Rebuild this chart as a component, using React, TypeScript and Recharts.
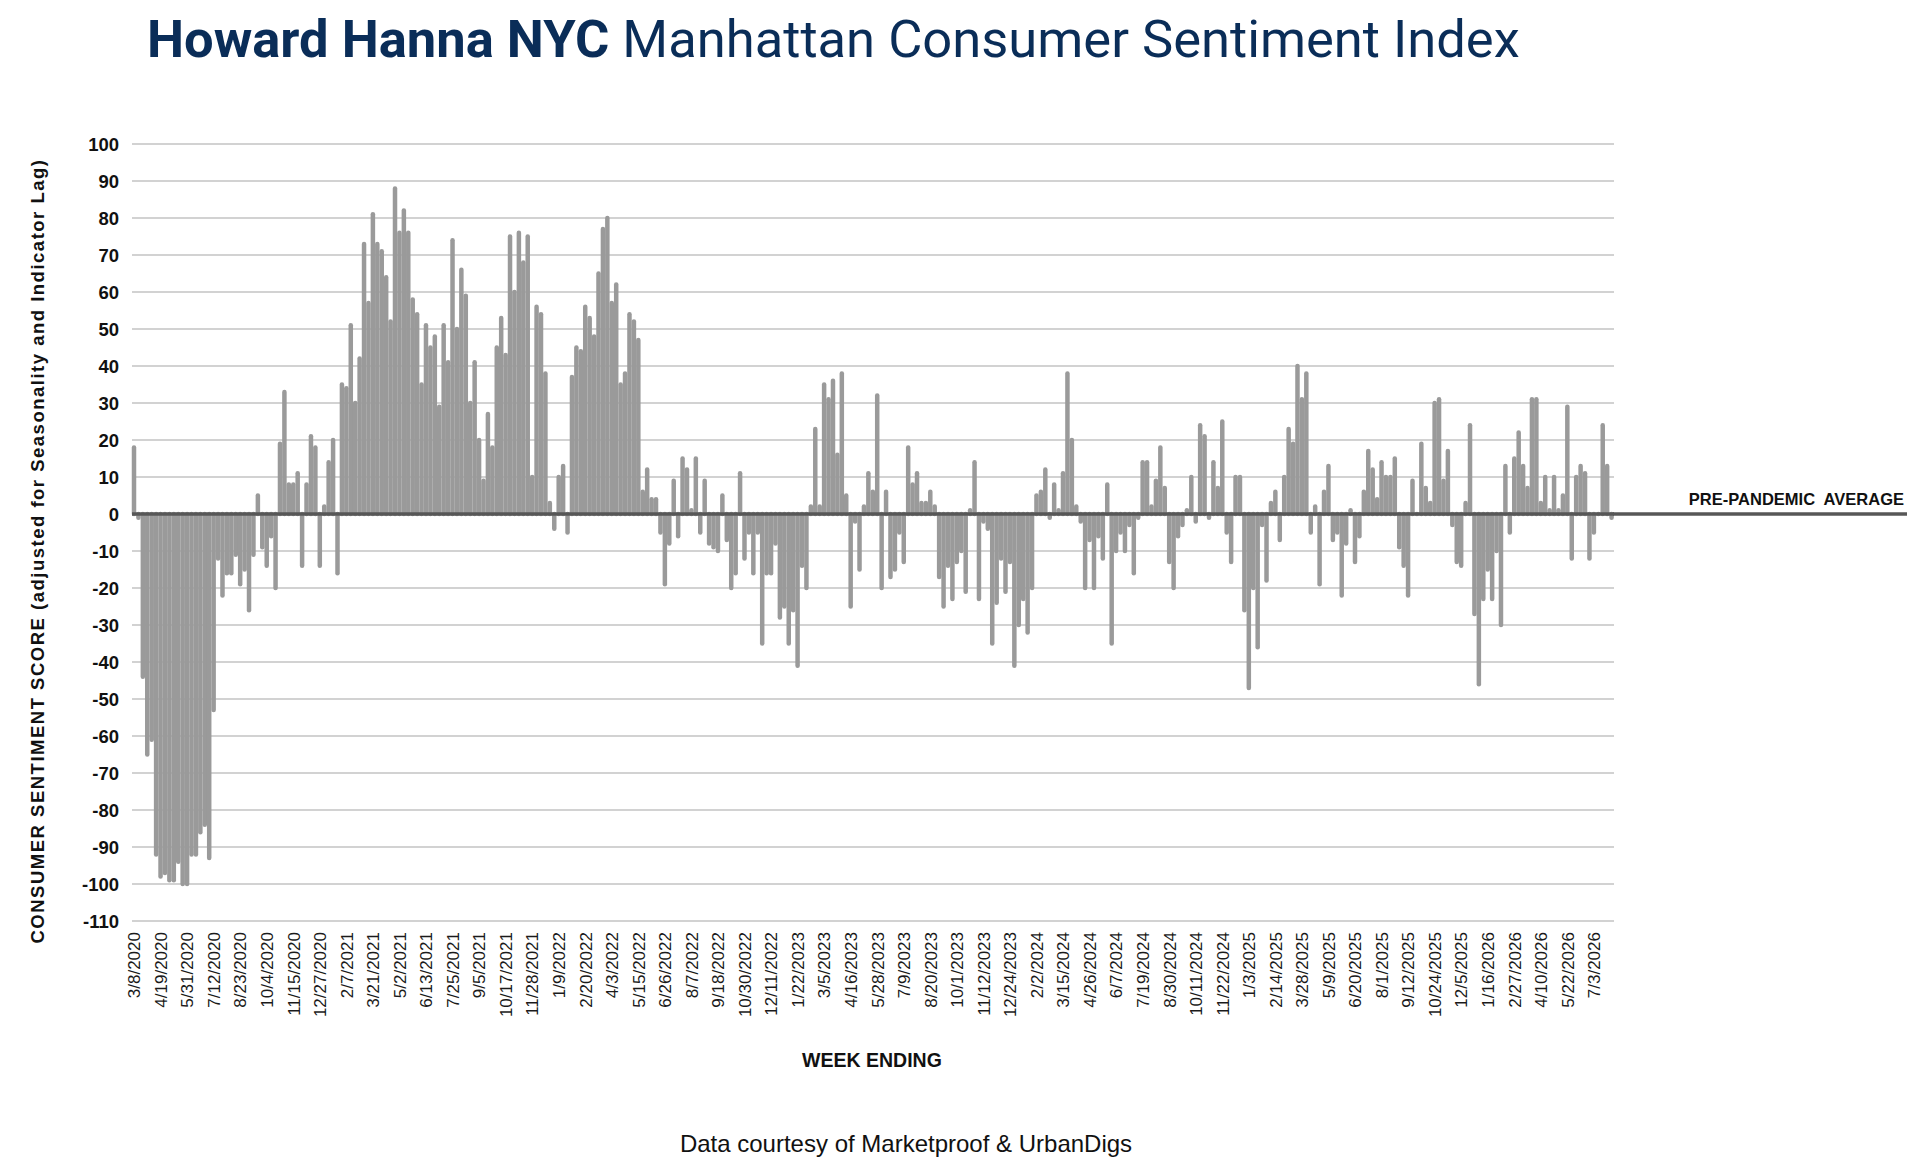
import React from "react";
import { BarChart, Bar, XAxis, YAxis, CartesianGrid, ReferenceLine } from "recharts";

// weekly index values, week ending 3/8/2020 onward
const VALUES = [
  18, -1, -44, -65, -61, -92, -98, -97, -99, -99,
  -94, -100, -100, -92, -92, -86, -84, -93, -53, -12,
  -22, -16, -16, -11, -19, -15, -26, -11, 5, -9,
  -14, -6, -20, 19, 33, 8, 8, 11, -14, 8,
  21, 18, -14, 2, 14, 20, -16, 35, 34, 51,
  30, 42, 73, 57, 81, 73, 71, 64, 52, 88,
  76, 82, 76, 58, 54, 35, 51, 45, 48, 29,
  51, 41, 74, 50, 66, 59, 30, 41, 20, 9,
  27, 18, 45, 53, 43, 75, 60, 76, 68, 75,
  10, 56, 54, 38, 3, -4, 10, 13, -5, 37,
  45, 44, 56, 53, 48, 65, 77, 80, 57, 62,
  35, 38, 54, 52, 47, 6, 12, 4, 4, -5,
  -19, -8, 9, -6, 15, 12, 1, 15, -5, 9,
  -8, -9, -10, 5, -7, -20, -16, 11, -12, -5,
  -16, -5, -35, -16, -16, -8, -28, -25, -35, -26,
  -41, -14, -20, 2, 23, 2, 35, 31, 36, 16,
  38, 5, -25, -2, -15, 2, 11, 6, 32, -20,
  6, -17, -15, -5, -13, 18, 8, 11, 3, 3,
  6, 2, -17, -25, -14, -23, -13, -10, -21, 1,
  14, -23, -2, -4, -35, -24, -12, -21, -13, -41,
  -30, -23, -32, -20, 5, 6, 12, -1, 8, 1,
  11, 38, 20, 2, -2, -20, -7, -20, -6, -12,
  8, -35, -10, -5, -10, -3, -16, -1, 14, 14,
  2, 9, 18, 7, -13, -20, -6, -3, 1, 10,
  -2, 24, 21, -1, 14, 7, 25, -5, -13, 10,
  10, -26, -47, -20, -36, -3, -18, 3, 6, -7,
  10, 23, 19, 40, 31, 38, -5, 2, -19, 6,
  13, -7, -5, -22, -8, 1, -13, -6, 6, 17,
  12, 4, 14, 10, 10, 15, -9, -14, -22, 9,
  0, 19, 7, 3, 30, 31, 9, 17, -3, -13,
  -14, 3, 24, -27, -46, -23, -15, -23, -10, -30,
  13, -5, 15, 22, 13, 7, 31, 31, 3, 10,
  1, 10, 1, 5, 29, -12, 10, 13, 11, -12,
  -5, 0, 24, 13, -1,
];

// one label every 6 weeks
const TICK_LABELS = [
  "3/8/2020", "4/19/2020", "5/31/2020", "7/12/2020", "8/23/2020", "10/4/2020",
  "11/15/2020", "12/27/2020", "2/7/2021", "3/21/2021", "5/2/2021", "6/13/2021",
  "7/25/2021", "9/5/2021", "10/17/2021", "11/28/2021", "1/9/2022", "2/20/2022",
  "4/3/2022", "5/15/2022", "6/26/2022", "8/7/2022", "9/18/2022", "10/30/2022",
  "12/11/2022", "1/22/2023", "3/5/2023", "4/16/2023", "5/28/2023", "7/9/2023",
  "8/20/2023", "10/1/2023", "11/12/2023", "12/24/2023", "2/2/2024", "3/15/2024",
  "4/26/2024", "6/7/2024", "7/19/2024", "8/30/2024", "10/11/2024", "11/22/2024",
  "1/3/2025", "2/14/2025", "3/28/2025", "5/9/2025", "6/20/2025", "8/1/2025",
  "9/12/2025", "10/24/2025", "12/5/2025", "1/16/2026", "2/27/2026", "4/10/2026",
  "5/22/2026", "7/3/2026",
];
const TICK_STEP = 6;

const Y_TICKS = [100, 90, 80, 70, 60, 50, 40, 30, 20, 10, 0, -10, -20, -30, -40, -50, -60, -70, -80, -90, -100, -110];

const data = VALUES.map((v, idx) => ({ idx, v }));
const tickPos = TICK_LABELS.map((_, k) => k * TICK_STEP);

const SANS = "'Liberation Sans', Arial, sans-serif";
const BAR = "#9a9a9a";

/* eslint-disable @typescript-eslint/no-explicit-any */
function Stick(props: any) {
  const { x, y, width, height } = props;
  if (x == null || y == null) return null;
  const cx = x + width / 2;
  return (
    <line x1={cx} x2={cx} y1={y} y2={y + (height || 0)} stroke={BAR} strokeWidth={4.5} strokeLinecap="round" />
  );
}

function WeekTick({ x, y, payload }: any) {
  const ty = y + 11;
  return (
    <text
      x={x}
      y={ty}
      dy="0.36em"
      textAnchor="end"
      transform={`rotate(-90 ${x} ${ty})`}
      fontSize={17}
      fontFamily={SANS}
      fill="#1a1a1a"
    >
      {TICK_LABELS[Math.round(payload.value / TICK_STEP)]}
    </text>
  );
}

function ZeroLabel(props: any) {
  const vb = props.viewBox || {};
  const x2 = (vb.x ?? 0) + (vb.width ?? 0);
  const y = vb.y ?? 0;
  return (
    <g>
      <line x1={x2 - 1} x2={1907} y1={y} y2={y} stroke="#575757" strokeWidth={3.5} />
      <text x={1904} y={y - 9} textAnchor="end" fontSize={16.5} fontWeight={700} fontFamily={SANS} fill="#111" style={{ whiteSpace: "pre" }}>
        PRE-PANDEMIC  AVERAGE
      </text>
    </g>
  );
}
/* eslint-enable @typescript-eslint/no-explicit-any */

export default function App() {
  return (
    <div style={{ position: "relative", width: 1920, height: 1176, background: "#fff", overflow: "hidden" }}>
      <style>{`body{margin:0}`}</style>

      <div
        style={{
          position: "absolute", left: 147, top: 13, fontFamily: "Roboto, sans-serif", fontSize: 52.5,
          lineHeight: 1, color: "#0a2d58", whiteSpace: "nowrap",
        }}
      >
        <span style={{ fontWeight: 700 }}>Howard Hanna NYC</span> <span style={{ fontWeight: 400 }}>Manhattan Consumer Sentiment Index</span>
      </div>

      <div style={{ position: "absolute", left: 0, top: 0 }}>
        <BarChart width={1920} height={1176} data={data} margin={{ top: 144, right: 306, bottom: 0, left: 32 }} barCategoryGap={0} barGap={0}>
          <CartesianGrid horizontal vertical={false} stroke="#d2d2d2" strokeWidth={2} />
          <XAxis
            dataKey="idx"
            type="category"
            ticks={tickPos}
            interval={0}
            height={255}
            axisLine={false}
            tickLine={false}
            tickSize={0}
            tickMargin={0}
            tick={<WeekTick />}
          />
          <YAxis
            type="number"
            domain={[-110, 100]}
            ticks={Y_TICKS}
            interval={0}
            width={100}
            axisLine={false}
            tickLine={false}
            tickSize={0}
            tickMargin={13}
            tick={{ fontSize: 18.5, fontWeight: 700, fontFamily: SANS, fill: "#111" }}
          />
          <Bar dataKey="v" fill={BAR} shape={<Stick />} isAnimationActive={false} />
          <ReferenceLine y={0} stroke="#575757" strokeWidth={3.5} label={<ZeroLabel />} />
        </BarChart>
      </div>

      <div
        style={{
          position: "absolute", left: 38, top: 551, transform: "translate(-50%, -50%) rotate(-90deg)",
          fontFamily: SANS, fontSize: 18.5, fontWeight: 700, letterSpacing: 1.5, lineHeight: 1,
          whiteSpace: "nowrap", color: "#111",
        }}
      >
        CONSUMER SENTIMENT SCORE (adjusted for Seasonality and Indicator Lag)
      </div>

      <div
        style={{
          position: "absolute", left: 872, top: 1051, transform: "translateX(-50%)",
          fontFamily: SANS, fontSize: 19.5, fontWeight: 700, lineHeight: 1, whiteSpace: "nowrap", color: "#111",
        }}
      >
        WEEK ENDING
      </div>

      <div
        style={{
          position: "absolute", left: 906, top: 1132, transform: "translateX(-50%)",
          fontFamily: SANS, fontSize: 24, lineHeight: 1, whiteSpace: "nowrap", color: "#111",
        }}
      >
        Data courtesy of Marketproof &amp; UrbanDigs
      </div>
    </div>
  );
}
